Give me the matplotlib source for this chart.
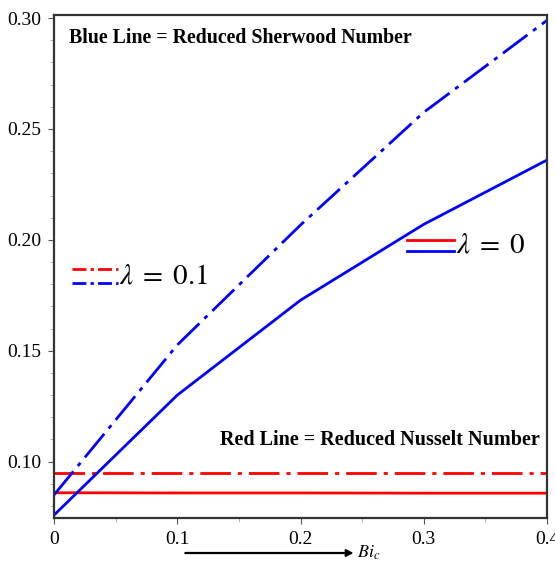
import matplotlib.pyplot as plt
import numpy as np

plt.rcParams['mathtext.fontset'] = 'stix'
plt.rcParams['font.family'] = 'Liberation Serif'

bi = [0.0, 0.1, 0.2, 0.3, 0.4]
sh_lam0 = [0.0759, 0.1300, 0.1728, 0.2070, 0.2360]
sh_lam01 = [0.0850, 0.1526, 0.2067, 0.2575, 0.2990]
nu_lam0 = [0.0860, 0.0859, 0.0859, 0.0858, 0.0858]
nu_lam01 = [0.0949, 0.0949, 0.0949, 0.0949, 0.0949]

dashdot = (0, (11, 2.5, 1.5, 2.5))

fig = plt.figure(figsize=(5.55, 5.63), dpi=100)
ax = fig.add_axes([0.0973, 0.0799, 0.8883, 0.8935])

ax.plot(bi, nu_lam01, color='#ff0000', lw=2, linestyle=dashdot)
ax.plot(bi, nu_lam0, color='#ff0000', lw=2)
ax.plot(bi, sh_lam01, color='#0000ff', lw=2, linestyle=dashdot)
ax.plot(bi, sh_lam0, color='#0000ff', lw=2)

ax.set_xlim(0, 0.4)
ax.set_ylim(0.0746, 0.3014)
ax.set_xticks([0, 0.1, 0.2, 0.3, 0.4])
ax.set_xticklabels(['0', '0.1', '0.2', '0.3', '0.4'])
ax.set_yticks([0.10, 0.15, 0.20, 0.25, 0.30])
ax.set_yticklabels(['0.10', '0.15', '0.20', '0.25', '0.30'])
ax.set_xticks(np.arange(0.05, 0.4, 0.1), minor=True)
ax.set_yticks(np.arange(0.08, 0.30, 0.01), minor=True)
ax.tick_params(which='major', length=4, width=0.8, color='#555555', labelsize=14, pad=5)
ax.tick_params(which='minor', length=3, width=0.6, color='#aaaaaa')
for s in ax.spines.values():
    s.set_linewidth(1.6)
    s.set_color('#333333')

ax.text(0.03, 0.975, 'Blue Line = Reduced Sherwood Number', transform=ax.transAxes,
        fontsize=14.3, fontweight='bold', va='top', ha='left')
ax.text(0.985, 0.155, 'Red Line = Reduced Nusselt Number', transform=ax.transAxes,
        fontsize=14.5, fontweight='bold', va='center', ha='right')

# legend keys, placed in axes fraction
def key(x0, x1, yr, yb, style, label, xt):
    ax.plot([x0, x1], [yr, yr], transform=ax.transAxes, color='#ff0000', lw=2,
            linestyle=style, clip_on=False)
    ax.plot([x0, x1], [yb, yb], transform=ax.transAxes, color='#0000ff', lw=2,
            linestyle=style, clip_on=False)
    ax.text(xt, (yr + yb) / 2, label, transform=ax.transAxes, fontsize=21,
            va='center', ha='left')

key(0.036, 0.130, 0.495, 0.467, (0, (5, 1.5, 1.2, 1.5)), r'$\lambda\;=\;0.1$', 0.132)
key(0.716, 0.812, 0.553, 0.531, '-', r'$\lambda\;=\;0$', 0.815)

# x label with arrow
fig.patches.append(plt.matplotlib.patches.FancyArrow(
    185 / 555, 10 / 563, 167 / 555, 0, width=0.0015, head_width=0.012,
    head_length=0.012, length_includes_head=True, color='black',
    transform=fig.transFigure, figure=fig))
fig.text(357 / 555, 10 / 563, r'$Bi_c$', fontsize=13, va='center', ha='left')

fig.savefig('out.png', dpi=100)
